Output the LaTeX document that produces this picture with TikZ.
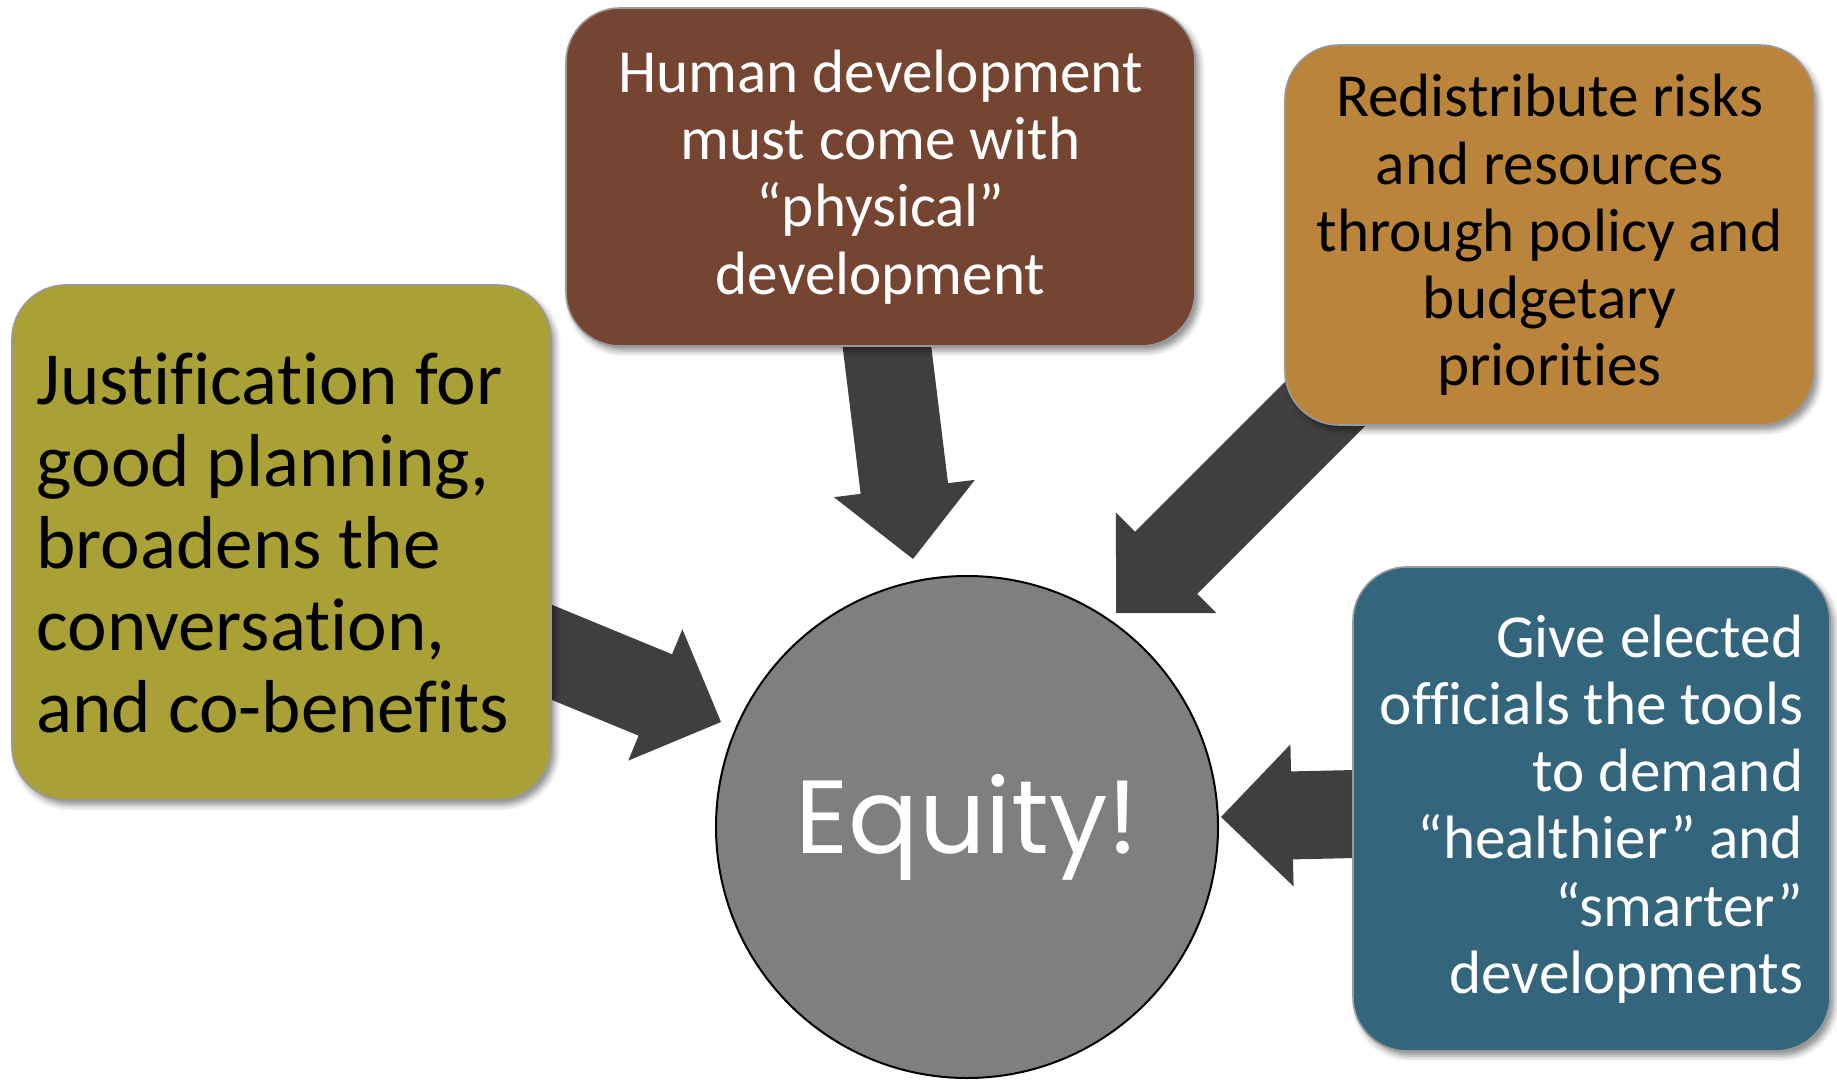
\documentclass[tikz,border=0pt]{standalone}
\usepackage{fontspec}
\setmainfont{Carlito}[Ligatures=NoCommon]
\newfontfamily\headfont{Poppins}
\usetikzlibrary{calc,shadows.blur}

\definecolor{olivebox}{HTML}{A9A036}
\definecolor{brownbox}{HTML}{764532}
\definecolor{orangebox}{HTML}{BA843B}
\definecolor{bluebox}{HTML}{33657D}
\definecolor{circgray}{HTML}{7F7F7F}
\definecolor{arrowgray}{HTML}{3F3F3F}

\tikzset{
  box/.style={draw=black!40, line width=0.8pt, rounded corners=27pt, inner sep=0pt,
    blur shadow={shadow xshift=2pt, shadow yshift=-2.5pt, shadow blur radius=3pt, shadow opacity=45}},
  smalltext/.style={font=\fontsize{30.6}{33.6}\selectfont},
  bigarrow/.style={fill=arrowgray},
}

% block arrow from tail #1 to tip #2: shaft half width 22pt, head half width 35.5pt, head length 35.5pt
\newcommand\blockarrow[2]{%
  \fill[bigarrow] let \p1=($(#2)-(#1)$), \n1={atan2(\y1,\x1)}, \n2={veclen(\x1,\y1)-35.5pt} in
    ($(#1)+(\n1+90:22pt)$)
    -- ($(#1)+(\n1:\n2)+(\n1+90:22pt)$)
    -- ($(#1)+(\n1:\n2)+(\n1+90:35.5pt)$)
    -- (#2)
    -- ($(#1)+(\n1:\n2)+(\n1-90:35.5pt)$)
    -- ($(#1)+(\n1:\n2)+(\n1-90:22pt)$)
    -- ($(#1)+(\n1-90:22pt)$) -- cycle;}

\begin{document}
\begin{tikzpicture}[x=0.5pt, y=-0.5pt]
\useasboundingbox (0,0) rectangle (1837,1080);

% arrow ends
\coordinate (tPlan) at (500,631);
\coordinate (hPlan) at (721,722);
\coordinate (tHuman) at (880,290);
\coordinate (hHuman) at (913,559);
\coordinate (tRisk) at (1366,363);
\coordinate (hRisk) at (1116,613);
\coordinate (tTools) at (1400,813);
\coordinate (hTools) at (1221,817);

\blockarrow{tPlan}{hPlan}
\blockarrow{tHuman}{hHuman}
\blockarrow{tRisk}{hRisk}
\blockarrow{tTools}{hTools}

% boxes
\node[box, fill=olivebox, minimum width=269.5pt, minimum height=257.5pt] (plan) at (281.5,542.5) {};
\node[anchor=west, align=left, inner sep=0pt, font=\fontsize{37.5}{41}\selectfont]
  (planText) at ([xshift=12.5pt]plan.west)
  {Justification for\\good planning,\\broadens the\\conversation,\\and co-benefits};

\node[box, fill=brownbox, text=white, minimum width=314.5pt, minimum height=169pt,
      align=center, smalltext] (human) at (880.5,177)
  {Human development\\must come with\\“physical”\\development};

\node[box, fill=orangebox, minimum width=264.5pt, minimum height=190pt,
      align=center, smalltext] (risk) at (1549.5,235)
  {Redistribute risks\\and resources\\through policy and\\budgetary\\priorities};

\node[box, fill=bluebox, text=white, minimum width=238.5pt, minimum height=242pt,
      align=right, smalltext] (tools) at (1591.5,809)
  {Give elected\\officials the tools\\to demand\\“healthier” and\\“smarter”\\developments};

% centre
\node[circle, draw=black, line width=1pt, fill=circgray, minimum size=251pt, inner sep=0pt,
      text=white, font=\headfont\fontsize{52}{60}\selectfont] (eq) at (967,827) {Equity!};
\end{tikzpicture}
\end{document}
